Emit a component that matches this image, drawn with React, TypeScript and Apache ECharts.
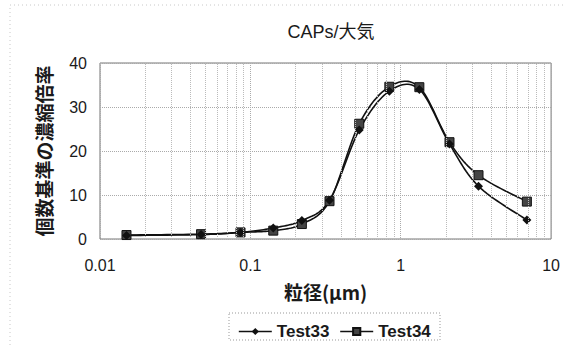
import React, { useEffect, useRef } from "react";
import * as echarts from "echarts";

// Particle diameter (μm) of each size bin
const diameters = [0.015, 0.047, 0.086, 0.142, 0.22, 0.336, 0.53, 0.84, 1.33, 2.11, 3.29, 6.9];
// Number-based concentration factor for each run
const test33 = [0.8, 1.0, 1.5, 2.5, 4.2, 8.8, 24.8, 33.6, 34.0, 21.6, 12.0, 4.3];
const test34 = [0.9, 1.1, 1.5, 1.9, 3.4, 8.6, 26.2, 34.6, 34.5, 22.0, 14.5, 8.5];
// Intermediate log gridlines (2..9 of each decade)
const minorGridX = [
  0.02, 0.03, 0.04, 0.05, 0.06, 0.07, 0.08, 0.09,
  0.2, 0.3, 0.4, 0.5, 0.6, 0.7, 0.8, 0.9,
  2, 3, 4, 5, 6, 7, 8, 9,
];

const LATIN = "'Liberation Sans', 'Noto Sans CJK JP', sans-serif";
const CJK = "'Noto Sans CJK JP', 'Liberation Sans', sans-serif";
const INK = "#1a1a1a";

// Spreadsheet-style smoothed curve: Catmull-Rom through the projected points,
// sampled into a polyline (may overshoot between points, unlike ECharts' own smoothing).
function smoothCurve(ys: number[]) {
  return (params: any, api: any) => {
    if (params.dataIndex !== 0) return null;
    const p = diameters.map((d, i) => api.coord([d, ys[i]]) as number[]);
    const n = p.length;
    const out: number[][] = [];
    for (let i = 0; i < n - 1; i++) {
      const p0 = p[Math.max(i - 1, 0)];
      const p1 = p[i];
      const p2 = p[i + 1];
      const p3 = p[Math.min(i + 2, n - 1)];
      const c1 = [p1[0] + (p2[0] - p0[0]) / 6, p1[1] + (p2[1] - p0[1]) / 6];
      const c2 = [p2[0] - (p3[0] - p1[0]) / 6, p2[1] - (p3[1] - p1[1]) / 6];
      const steps = 16;
      for (let s = i === 0 ? 0 : 1; s <= steps; s++) {
        const t = s / steps;
        const u = 1 - t;
        const a = u * u * u, b = 3 * u * u * t, c = 3 * u * t * t, e = t * t * t;
        out.push([
          a * p1[0] + b * c1[0] + c * c2[0] + e * p2[0],
          a * p1[1] + b * c1[1] + c * c2[1] + e * p2[1],
        ]);
      }
    }
    return {
      type: "polyline",
      shape: { points: out },
      style: { stroke: "#111", lineWidth: 1.6, fill: "none" },
      silent: true,
    };
  };
}

export default function App() {
  const ref = useRef<HTMLDivElement>(null);

  useEffect(() => {
    if (!ref.current) return;
    const chart = echarts.init(ref.current, undefined, { renderer: "svg" });
    const pair = (ys: number[]) => diameters.map((d, i) => [d, ys[i]]);

    chart.setOption({
      animation: false,
      backgroundColor: "#fff",
      title: {
        text: "CAPs/大気",
        left: 326,
        textAlign: "center",
        top: 18,
        textStyle: { fontFamily: LATIN, fontSize: 18, fontWeight: "normal", color: INK },
      },
      graphic: [
        {
          type: "rect",
          shape: { x: 10, y: 5, width: 560, height: 350 },
          style: { fill: "none", stroke: "#c8c8c8", lineWidth: 1, lineDash: [1, 3] },
          silent: true,
        },
        {
          type: "rect",
          shape: { x: 229, y: 313, width: 211, height: 27 },
          style: { fill: "none", stroke: "#999", lineWidth: 1, lineDash: [1, 2] },
          silent: true,
        },
      ],
      legend: {
        data: ["Test33", "Test34"],
        left: 233,
        top: 318,
        itemWidth: 33,
        itemHeight: 9,
        itemGap: 10,
        lineStyle: { color: "#111", width: 1.6, opacity: 1, type: "solid" },
        textStyle: { fontFamily: LATIN, fontSize: 17, fontWeight: "bold", color: INK },
      },
      grid: {
        left: 100,
        right: 10,
        top: 63,
        bottom: 106,
        show: true,
        borderColor: "#777",
        borderWidth: 1,
      },
      xAxis: {
        type: "log",
        logBase: 10,
        min: 0.01,
        max: 10,
        name: "粒径(μm)",
        nameLocation: "middle",
        nameGap: 43,
        nameTextStyle: { fontFamily: CJK, fontSize: 19, fontWeight: "bold", color: INK },
        axisLine: { show: false },
        axisTick: { show: false },
        axisLabel: {
          fontFamily: LATIN,
          fontSize: 16,
          color: INK,
          margin: 18,
          formatter: (v: number) => String(v),
        },
        splitLine: { show: true, lineStyle: { color: "#aaa", type: "dotted", width: 1 } },
      },
      yAxis: {
        type: "value",
        min: 0,
        max: 40,
        interval: 10,
        name: "個数基準の濃縮倍率",
        nameLocation: "middle",
        nameRotate: 90,
        nameGap: 47,
        nameTextStyle: { fontFamily: CJK, fontSize: 19, fontWeight: "bold", color: INK },
        axisLine: { show: false },
        axisTick: { show: false },
        axisLabel: { fontFamily: LATIN, fontSize: 16, color: INK, margin: 13 },
        splitLine: { show: true, lineStyle: { color: "#aaa", type: "dotted", width: 1 } },
      },
      series: [
        {
          name: "minor-grid",
          type: "line",
          data: [],
          z: 1,
          silent: true,
          markLine: {
            silent: true,
            symbol: ["none", "none"],
            label: { show: false },
            lineStyle: { color: "#bbb", type: "dotted", width: 1 },
            data: minorGridX.map((x) => ({ xAxis: x })),
          },
        },
        {
          name: "Test34 curve",
          type: "custom",
          data: pair(test34),
          z: 2,
          silent: true,
          renderItem: smoothCurve(test34),
        },
        {
          name: "Test33 curve",
          type: "custom",
          data: pair(test33),
          z: 2,
          silent: true,
          renderItem: smoothCurve(test33),
        },
        {
          name: "Test34",
          type: "line",
          data: pair(test34),
          symbol: "rect",
          symbolSize: 9,
          z: 3,
          lineStyle: { color: "#111", width: 1.6, opacity: 0 },
          itemStyle: { color: "#444", borderColor: "#111", borderWidth: 1 },
        },
        {
          name: "Test33",
          type: "line",
          data: pair(test33),
          symbol: "diamond",
          symbolSize: 9,
          z: 4,
          lineStyle: { color: "#111", width: 1.6, opacity: 0 },
          itemStyle: { color: "#111" },
        },
      ],
    });

    return () => chart.dispose();
  }, []);

  return (
    <div
      ref={ref}
      style={{ position: "fixed", left: 0, top: 0, width: 563, height: 345 }}
    />
  );
}
